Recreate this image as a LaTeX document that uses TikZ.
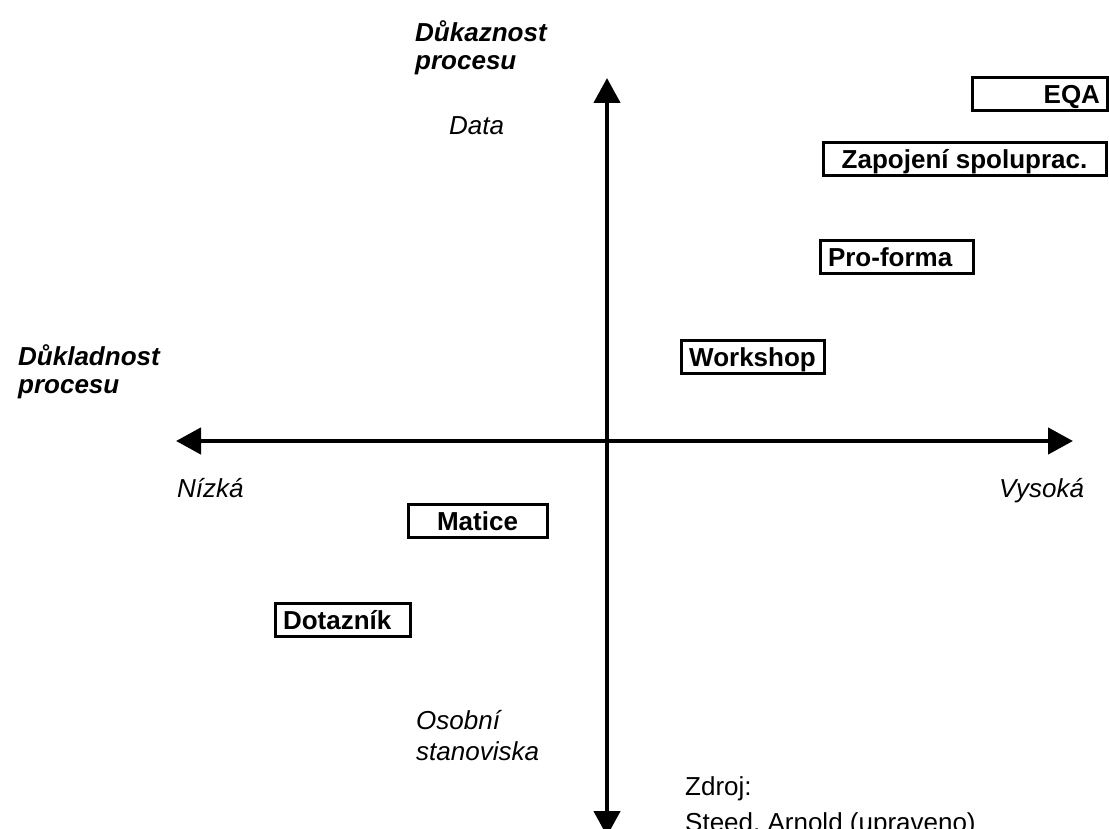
\documentclass[tikz,border=0pt]{standalone}
\usepackage{fontspec}
\setmainfont{Liberation Sans}
\usetikzlibrary{arrows.meta}
\begin{document}
\begin{tikzpicture}[x=1pt,y=-1pt,
  lbl/.style={inner sep=0pt, anchor=base west, font=\fontsize{26}{30}\selectfont},
  axtitle/.style={lbl, font=\fontsize{26}{30}\selectfont\bfseries\itshape},
  ital/.style={lbl, font=\fontsize{26}{30}\selectfont\itshape},
  box/.style={draw, line width=3pt, font=\fontsize{26}{30}\selectfont\bfseries,
    inner ysep=0pt, text height=26pt, text depth=7pt},
  axis/.style={line width=4.5pt,
    {Triangle[length=25pt,width=26pt]}-{Triangle[length=25pt,width=26pt]}}
]
\useasboundingbox (0,0) rectangle (1109,829);

% axes
\coordinate (top) at (607,78);
\coordinate (bottom) at (607,836);
\coordinate (left) at (176,441);
\coordinate (right) at (1073,441);
\draw[axis] (bottom) -- (top);
\draw[axis] (left) -- (right);

% axis titles and labels
\node[axtitle] (t1a) at (415,42) {Důkaznost};
\node[axtitle] (t1b) at (415,70) {procesu};
\node[ital] (data) at (449,135) {Data};
\node[axtitle] (t2a) at (18,365) {Důkladnost};
\node[axtitle] (t2b) at (18,393) {procesu};
\node[ital] (low) at (177,497) {Nízká};
\node[ital] (high) at (999,497) {Vysoká};
\node[ital] (os1) at (416,729) {Osobní};
\node[ital] (os2) at (416,760) {stanoviska};
\node[lbl] (src1) at (685,795) {Zdroj:};
\node[lbl] (src2) at (685,831) {Steed, Arnold (upraveno)};

% boxes
\node[box, inner xsep=7pt, text width=121pt, align=right] (eqa) at (1039.5,94) {EQA};
\node[box, inner xsep=2pt, minimum width=283pt] (zap) at (964.5,159) {Zapojení spoluprac.};
\node[box, inner xsep=8pt, text width=137pt, align=left] (pro) at (896.5,257.5) {Pro-forma};
\node[box, inner xsep=2pt, minimum width=143pt] (work) at (752.5,356.5) {Workshop};
\node[box, inner xsep=2pt, minimum width=139pt] (mat) at (477.5,521) {Matice};
\node[box, inner xsep=8pt, text width=119pt, align=left] (dot) at (342.5,620) {Dotazník};
\end{tikzpicture}
\end{document}
